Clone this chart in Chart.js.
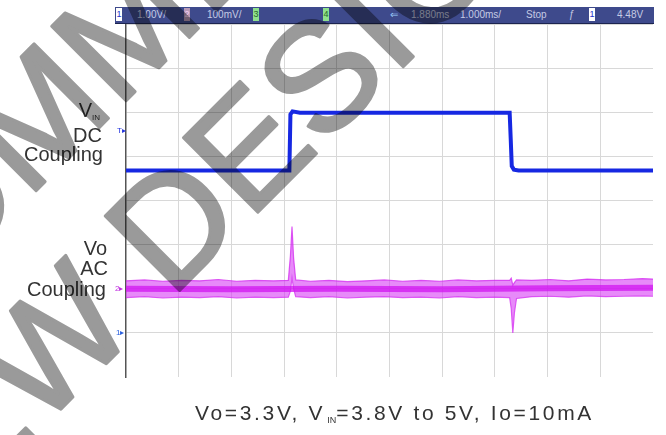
<!DOCTYPE html>
<html>
<head>
<meta charset="utf-8">
<script src="https://cdn.jsdelivr.net/npm/chart.js@4/dist/chart.umd.min.js"></script>
<style>
  body { margin: 0; background: #fff; font-family: "Liberation Sans", Arial, sans-serif; }
  #wrap { position: relative; width: 666px; height: 435px; overflow: hidden; background: #fff; }
  #myChart { position: absolute; left: 0; top: 0; }
  .lbl { position: absolute; color: #333; font-size: 20px; line-height: 20px; white-space: nowrap; }
  .sub { font-size: 8px; vertical-align: -3px; }
  #bar { position: absolute; left: 115px; top: 7px; width: 539px; height: 16px; background: #3e4a8c; border-bottom: 1px solid #1c2450; }
  #bar span { position: absolute; top: 2px; font-size: 10px; line-height: 12px; color: #c5cae4; white-space: nowrap; }
  #bar .box { top: 1px; width: 6px; height: 13px; font-size: 9px; text-align: center; line-height: 13px; }
  .mk { position: absolute; font-size: 8px; line-height: 8px; }
  #caption { position: absolute; left: 195px; top: 402px; font-size: 21px; line-height: 21px; letter-spacing: 2.65px; color: #333; white-space: nowrap; }
  #caption .sub { font-size: 9px; letter-spacing: 0; vertical-align: -3px; margin-left: 2px; }
  #wm { position: absolute; left: 0; top: 0; pointer-events: none; mix-blend-mode: multiply; }
</style>
</head>
<body>
<div id="wrap">
  <canvas id="myChart" width="666" height="435"></canvas>

  <div id="bar">
    <span class="box" style="left:1px;background:#fff;color:#2233cc">1</span>
    <span style="left:22px">1.00V/</span>
    <span class="box" style="left:69px;background:#b79ab8;color:#f4d0f4">2</span>
    <span style="left:92px">100mV/</span>
    <span class="box" style="left:138px;background:#8ee08e;color:#2a6a2a">3</span>
    <span class="box" style="left:208px;background:#8ee08e;color:#2a6a2a">4</span>
    <span style="left:275px;color:#9fd0ff">&#8656;</span>
    <span style="left:296px">1.880ms</span>
    <span style="left:345px">1.000ms/</span>
    <span style="left:411px">Stop</span>
    <span style="left:454px">&#402;</span>
    <span class="box" style="left:474px;background:#fff;color:#2233cc">1</span>
    <span style="left:502px">4.48V</span>
  </div>

  <div class="lbl" style="right:566px;top:100px">V<span class="sub">IN</span></div>
  <div class="lbl" style="right:564px;top:125px">DC</div>
  <div class="lbl" style="right:563px;top:144px">Coupling</div>
  <div class="lbl" style="right:559px;top:238px">Vo</div>
  <div class="lbl" style="right:558px;top:258px">AC</div>
  <div class="lbl" style="right:560px;top:279px">Coupling</div>

  <div class="mk" style="left:117px;top:127px;color:#2233dd">T&#9656;</div>
  <div class="mk" style="left:115px;top:285px;color:#c030e0">2&#9656;</div>
  <div class="mk" style="left:116px;top:329px;color:#2a60e0">1&#9656;</div>

  <div id="caption">Vo=3.3V, V<span class="sub">IN</span>=3.8V to 5V, Io=10mA</div>

  <svg id="wm" width="666" height="435">
    <g transform="translate(273,197) rotate(-45)" fill="#9a9a9a" stroke="#9a9a9a" stroke-width="3" stroke-linejoin="round" font-family="Liberation Sans, Arial, sans-serif" font-size="153">
      <text x="0" y="0" text-anchor="middle">NEW DESIGNS</text>
      <text x="0" y="-172" text-anchor="middle">NOT RECOMMENDED FOR</text>
    </g>
  </svg>
</div>

<script>
// VIN trace, channel 1 (V)
const vinTime = [0, 3.1, 3.12, 3.16, 3.3, 7.28, 7.3, 7.32, 7.36, 7.45, 10];
const vinVolts = [3.68, 3.68, 4.95, 5.02, 4.99, 4.99, 4.4, 3.78, 3.7, 3.68, 3.68];

// Vo trace, channel 2 (mV, AC coupled): noise envelope + centre
const voTime = [
  0, 0.35, 0.7, 1.05, 1.4, 1.75, 2.1, 2.45, 2.8, 3.08, 3.12, 3.15, 3.18, 3.22,
  3.5, 3.85, 4.2, 4.55, 4.9, 5.25, 5.6, 5.95, 6.3, 6.65, 7.0, 7.28, 7.31, 7.34,
  7.37, 7.41, 7.7, 8.05, 8.4, 8.75, 9.1, 9.45, 9.8, 10,
];
const voUpper = [
  18, 20, 17, 19, 18, 21, 17, 19, 18, 19, 75, 141, 70, 20,
  17, 19, 16, 18, 20, 17, 19, 17, 20, 18, 19, 19, 24, 8,
  14, 20, 19, 21, 18, 22, 20, 21, 23, 22,
];
const voLower = [
  -20, -18, -21, -19, -20, -18, -21, -19, -20, -19, -5, 25, 0, -18,
  -20, -18, -21, -19, -18, -20, -19, -21, -18, -20, -19, -20, -45, -100,
  -55, -22, -18, -17, -19, -16, -18, -17, -16, -17,
];
const coreTime = [0, 2, 4, 6, 8, 10];
const coreMv = [0, -1, 0, -1, 1, 2];

const blue = "#1628e2";
const magenta = "rgba(210,20,240,0.75)";
const magentaEdge = "rgba(210,30,240,0.7)";

function pts(xs, ys) {
  return xs.map(function (x, i) {
    return { x: x, y: ys[i] };
  });
}

const myChart = new Chart("myChart", {
  type: "line",
  data: {
    datasets: [
      {
        label: "VIN",
        data: pts(vinTime, vinVolts),
        borderColor: blue,
        borderWidth: 4,
        pointRadius: 0,
        yAxisID: "y",
        order: 0,
      },
      {
        label: "Vo core",
        data: pts(coreTime, coreMv),
        borderColor: magenta,
        borderWidth: 6,
        pointRadius: 0,
        yAxisID: "y2",
        order: 1,
      },
      {
        label: "Vo upper",
        data: pts(voTime, voUpper),
        borderColor: magentaEdge,
        borderWidth: 1.2,
        backgroundColor: "rgba(215,60,245,0.6)",
        fill: "+1",
        pointRadius: 0,
        yAxisID: "y2",
        order: 2,
      },
      {
        label: "Vo lower",
        data: pts(voTime, voLower),
        borderColor: magentaEdge,
        borderWidth: 1.2,
        fill: false,
        pointRadius: 0,
        yAxisID: "y2",
        order: 3,
      },
    ],
  },
  options: {
    responsive: false,
    animation: false,
    layout: {
      padding: { left: 126, right: 13, top: 24, bottom: 58 },
    },
    scales: {
      x: {
        type: "linear",
        min: 0,
        max: 10,
        ticks: { display: false, stepSize: 1 },
        border: { display: false },
        grid: {
          drawTicks: false,
          color: function (ctx) {
            const v = ctx.tick.value;
            return v === 0 || v === 10 ? "rgba(0,0,0,0)" : "#d8d8d8";
          },
        },
      },
      y: {
        min: -1,
        max: 7,
        ticks: { display: false, stepSize: 1 },
        border: { display: true, color: "#555", width: 1.5 },
        grid: {
          drawTicks: false,
          color: function (ctx) {
            return ctx.tick.value === -1 ? "rgba(0,0,0,0)" : "#d8d8d8";
          },
        },
      },
      y2: {
        display: false,
        min: -200,
        max: 600,
      },
    },
    plugins: {
      legend: { display: false },
      tooltip: { enabled: false },
    },
  },
});
</script>
</body>
</html>
